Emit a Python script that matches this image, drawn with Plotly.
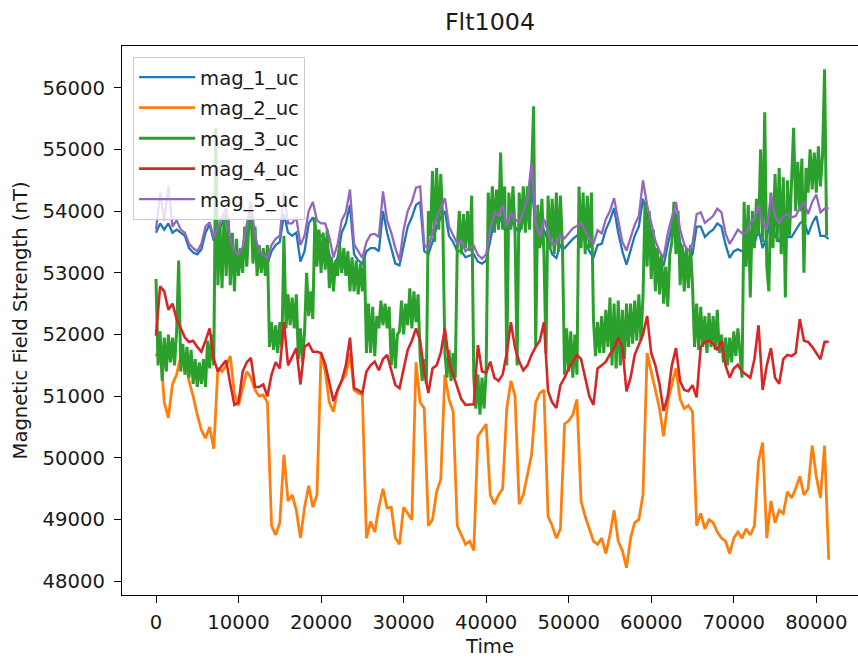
import plotly.graph_objects as go

# ---------------- data ----------------
time_main = list(range(0, 81501, 500))      # sample times for mag_1, mag_2, mag_4, mag_5
time_mag3 = list(range(0, 81251, 250))      # sample times for mag_3 (noisier, sampled finer)

mag_1_uc = [
    53650, 53800, 53700, 53800, 53650, 53700, 53650, 53600, 53400, 53330,
    53300, 53380, 53650, 53780, 53520, 53650, 53800, 53950, 53450, 53250,
    53200, 53300, 53650, 53950, 53550, 53300, 53200, 53150, 53350, 53450,
    53500, 53950, 53650, 53600, 53650, 53180, 53350, 53800, 53900, 53650,
    53600, 53550, 53300, 53100, 53250, 53650, 53800, 54100, 53300, 53200,
    53150, 53350, 53400, 53400, 53350, 54000, 53650, 53400, 53150, 53120,
    53450, 53750, 53900, 54100, 54150, 53350, 53300, 53500, 53750, 53900,
    54000, 53600, 53500, 53350, 53350, 53250, 53280, 53300, 53180, 53150,
    53200, 53550, 53850, 53800, 53950, 53650, 53850, 53750, 53650, 53850,
    53980, 54500, 53650, 53420, 53700, 53500, 53300, 53240, 53450, 53400,
    53480, 53550, 53600, 53650, 53500, 53350, 53240, 53450, 53470, 53700,
    53850, 54050, 53650, 53350, 53130, 53350, 53600, 53750, 54200, 53950,
    53650, 53350, 53200, 53120, 53450, 53750, 53950, 53500, 53280, 53230,
    53300, 53750, 53750, 53580, 53650, 53700, 53800, 53750, 53460, 53240,
    53350, 53380, 53350, 53400, 53520, 53470, 53700, 53400, 53580, 53920,
    53600, 53500, 53700, 53580, 53580, 53700, 53800, 53850, 53620, 53800,
    53920, 53600, 53600, 53550,
]

mag_2_uc = [
    51650, 51800, 50900, 50650, 51200, 51350, 51650, 51600, 51250, 51000,
    50700, 50450, 50320, 50500, 50150, 51450, 51400, 51500, 51650, 51050,
    50850, 51150, 51400, 51300, 51100, 51000, 51020, 50900, 48900, 48750,
    48950, 50050, 49300, 49400, 49150, 48700, 49200, 49550, 49200, 49400,
    51700, 51400, 50900, 50750, 51100, 51250, 51350, 51700, 51100, 51050,
    51020, 48700, 48970, 48800, 49200, 49500, 49190, 49200, 48700, 48600,
    49200, 49100, 49000, 51550, 50900, 50800, 48900, 49000, 49450, 49650,
    51350, 50950, 50750, 48900, 48750, 48600, 48650, 48500, 50350, 50450,
    50550, 49400, 49250, 49400, 49500, 50800, 51250, 51000, 49250, 49400,
    49700, 50050, 50900, 51050, 51100, 49050, 48900, 48700, 48850, 50550,
    50600, 50700, 50950, 49300, 49050, 48850, 48650, 48600, 48700, 48450,
    48750, 49150, 48650, 48500, 48220, 48700, 48950, 49000, 49400, 51700,
    51400, 51050, 50800, 50350, 50900, 51200, 51450, 50950, 50800, 50850,
    50750, 48900, 49100, 48850, 49000, 48950, 48800, 48700, 48650, 48450,
    48700, 48800, 48700, 48850, 48750, 48900, 49950, 50250, 48700, 49300,
    48950, 49150, 49100, 49450, 49350, 49500, 49700, 49400, 49500, 50200,
    49700, 49350, 50200, 48350,
]

mag_3_uc = [
    52900, 51500, 52050, 51250, 51950, 51400, 52000, 51550, 51950, 51500, 52050, 53200, 51400, 51850, 51350, 51800, 51300, 51750, 51200, 51600,
    51150, 51550, 51200, 51600, 51150, 51900, 51450, 52000, 51500, 55350, 52800, 53800, 52750, 53950, 52950, 53900, 52800, 53650, 52700, 53550,
    52950, 53400, 53000, 53750, 53100, 53800, 54050, 53150, 53750, 52950, 53450, 53000, 53400, 52950, 53450, 51800, 52200, 51750, 52150, 51700,
    52200, 51800, 53600, 52100, 52650, 52150, 52600, 52100, 52650, 51600, 52100, 51550, 52050, 53000, 52300, 52700, 52250, 53900, 53100, 53700,
    53000, 53650, 53050, 53700, 52750, 53250, 52700, 53200, 52950, 53450, 53000, 53400, 52950, 53350, 52700, 53250, 52700, 53200, 52650, 53150,
    52700, 53250, 51700, 52500, 51700, 52450, 51650, 52300, 52100, 52550, 52150, 52500, 52100, 52450, 51500, 52100, 51450, 52000, 52050, 52550,
    52000, 52500, 52150, 52750, 52100, 52700, 52200, 52650, 51650, 51250, 51600, 51200, 54000, 53600, 54650, 53500, 54700, 53700, 54600, 53800,
    51700, 51300, 51750, 51250, 51700, 51300, 53400, 54000, 53300, 53950, 53400, 54000, 53350, 54250, 51300, 50800, 51350, 50700, 51300, 50800,
    51400, 54300, 53700, 54400, 53650, 54350, 53700, 54950, 53700, 54400, 51500, 54300, 53700, 54400, 53650, 51500, 54300, 53700, 54400, 53650,
    54400, 53700, 54600, 55700, 51800, 54100, 53400, 54200, 53300, 51700, 54250, 53400, 54200, 53300, 54300, 53350, 54250, 53400, 51350, 52100,
    51400, 52050, 51300, 52000, 51350, 54400, 53400, 54300, 53300, 54250, 53400, 54300, 52250, 51650, 52200, 51700, 52300, 51700, 52400, 51800,
    52600, 51500, 52500, 51450, 52550, 51500, 52400, 51600, 52500, 51800, 52500, 51850, 52550, 51900, 52650, 51900, 52600, 54150, 53100, 54000,
    52900, 53700, 52700, 53400, 52650, 53300, 52500, 53100, 52450, 53300, 53500, 54150, 53300, 54000, 52800, 53450, 52700, 53400, 52750, 53450,
    52800, 51800, 52500, 51750, 52450, 51800, 52300, 51700, 52350, 51800, 52300, 51750, 52400, 51700, 52000, 51550, 51950, 51500, 51950, 51550,
    52050, 51650, 52100, 51700, 51300, 54150, 53100, 54100, 52600, 54000, 53400, 54200, 53600, 55000, 53500, 55600, 53100, 52700, 54300, 53400,
    54600, 53500, 54700, 53300, 54550, 52600, 54500, 53600, 54400, 55350, 54000, 54800, 54000, 54850, 53000, 54700, 54300, 55000, 54350, 54950,
    54300, 55050, 54400, 54900, 56300, 53600,
]

mag_4_uc = [
    51980, 52780, 52700, 52400, 52500, 52250, 52100, 51950, 51880, 51900,
    51800, 51720, 51900, 52100, 51600, 51400, 51500, 51580, 51200, 50860,
    50900, 51400, 51550, 51620, 51150, 51150, 51190, 51000, 51350, 51550,
    51450, 52200, 51500, 51650, 51780, 51190, 51800, 51850, 51720, 51720,
    51700, 51520, 51200, 50920, 51100, 51250, 51500, 51950, 51130, 51100,
    51050, 51400, 51500, 51560, 51420, 51600, 51670, 51400, 51180, 51130,
    51450, 51750, 51900, 52100, 51900, 51400, 51050, 51450, 51500, 51700,
    52100, 51550, 51350, 51130, 50950, 50860, 50860, 50870, 51830, 51400,
    51380, 51560, 51300, 51250, 51350, 51700, 52200, 51780, 51560, 51420,
    51500, 51670, 51800, 51900, 52200, 51080, 50900, 50810, 51180, 51300,
    51450, 51560, 51670, 51600, 51290, 51000, 50860, 51450, 51500, 51560,
    51680, 51780, 51950, 51800, 51080, 51300, 51670, 51850, 52000, 52300,
    51700, 51500, 51200, 50760, 51000, 51500, 51780, 51240, 51100, 51080,
    51180, 50980, 51800, 51880, 51900, 51850, 51750, 51900, 51500, 51300,
    51450, 51510, 51400, 51350, 51300, 51600, 52150, 51100, 51500, 51780,
    51300, 51200, 51600, 51670, 51650, 51700, 52250, 51900, 51880, 51800,
    51700, 51600, 51880, 51880,
]

mag_5_uc = [
    53700, 54300, 53850, 54400, 53750, 53850, 53700, 53650, 53470, 53400,
    53350, 53470, 53750, 53820, 53580, 53750, 53900, 54050, 53550, 53350,
    53300, 53420, 53810, 54150, 53600, 53350, 53300, 53240, 53450, 53550,
    53600, 54300, 53800, 53800, 53900, 53450, 53600, 54000, 54150, 53850,
    53800, 53800, 53580, 53250, 53460, 53850, 53980, 54350, 53460, 53350,
    53240, 53500, 53620, 53630, 53580, 54320, 53850, 53650, 53400, 53200,
    53700, 54000, 54150, 54380, 54400, 53450, 53400, 53650, 53900, 54050,
    54210, 53750, 53620, 53470, 53520, 53350, 53410, 53440, 53290, 53230,
    53300, 53700, 53980, 53930, 54100, 53750, 53980, 53870, 53810, 53980,
    54200, 54780, 53810, 53580, 53870, 53650, 53460, 53480, 53620, 53560,
    53650, 53720, 53760, 53810, 53680, 53560, 53470, 53690, 53640, 53870,
    54000, 54210, 53850, 53500, 53360, 53560, 53780, 53920, 54500, 54100,
    53810, 53520, 53350, 53240, 53640, 53920, 54150, 53700, 53460, 53350,
    53480, 53950, 53980, 53810, 53870, 53920, 54040, 53980, 53640, 53470,
    53580, 53700, 53640, 53640, 53810, 53870, 54100, 53810, 53700, 54270,
    53920, 53810, 53920, 53950, 53900, 53920, 54050, 54150, 53950, 54150,
    54270, 53980, 54040, 54050,
]

series_names = ["mag_1_uc", "mag_2_uc", "mag_3_uc", "mag_4_uc", "mag_5_uc"]
series_colors = ["#1f77b4", "#ff7f0e", "#2ca02c", "#d62728", "#9467bd"]
series_widths = [2.3, 2.8, 3.0, 2.6, 2.3]
x_tick_values = [0, 10000, 20000, 30000, 40000, 50000, 60000, 70000, 80000]
y_tick_values = [48000, 49000, 50000, 51000, 52000, 53000, 54000, 55000, 56000]

series_values = [mag_1_uc, mag_2_uc, mag_3_uc, mag_4_uc, mag_5_uc]
series_times = [time_main, time_main, time_mag3, time_main, time_main]
for nm, tt, vv in zip(series_names, series_times, series_values):
    assert len(tt) == len(vv), (nm, len(tt), len(vv))

# ---------------- figure ----------------
FS = 19.6
fig = go.Figure()
for nm, tt, vv, col, lw in zip(series_names, series_times, series_values,
                               series_colors, series_widths):
    fig.add_trace(go.Scatter(x=tt, y=vv, mode="lines", name=nm, legendgroup=nm,
                             line=dict(color=col, width=lw)))

axis_common = dict(
    showgrid=False, zeroline=False, showline=True, linecolor="black",
    linewidth=1.3, ticks="outside", ticklen=7, tickwidth=1.3,
    tickcolor="black", tickfont=dict(size=FS, color="#1a1a1a"),
)

fig.update_layout(
    width=858, height=658,
    margin=dict(l=122, r=0, t=46, b=63),
    paper_bgcolor="white", plot_bgcolor="white",
    font=dict(family="DejaVu Sans", size=FS, color="#1a1a1a"),
    title=dict(text="Flt1004", x=0.5, xref="paper", xanchor="center",
               y=1 - 22 / 658, yref="container", yanchor="middle",
               font=dict(size=23.8, color="#1a1a1a")),
    showlegend=True,
    legend=dict(x=0.015, y=0.98, xanchor="left", yanchor="top",
                bgcolor="rgba(255,255,255,0.8)", bordercolor="#cccccc",
                borderwidth=1, font=dict(size=FS, color="#1a1a1a"),
                itemwidth=56, tracegroupgap=2),
)

fig.update_xaxes(
    range=[-4119, 85050], tickvals=x_tick_values,
    ticktext=[str(v) for v in x_tick_values], mirror=True,
    ticklabelstandoff=2,
    title=dict(text="Time", standoff=8, font=dict(size=FS)),
    **axis_common,
)
fig.update_yaxes(
    range=[47778, 56676], tickvals=y_tick_values,
    ticktext=[str(v) for v in y_tick_values],
    ticklabelstandoff=5,
    title=dict(text="Magnetic Field Strength (nT)", standoff=9, font=dict(size=FS)),
    **axis_common,
)

fig.write_html("out.html")
